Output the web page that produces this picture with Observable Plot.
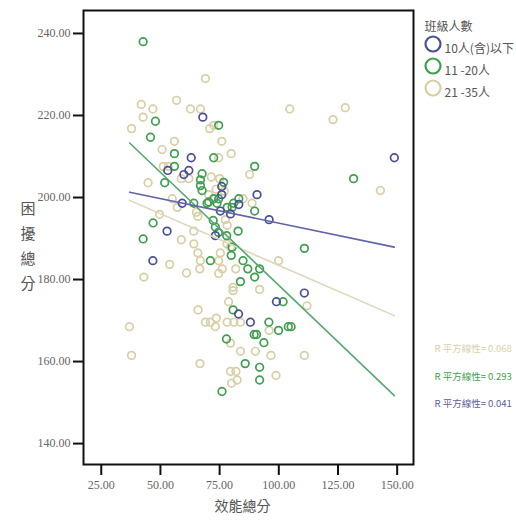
<!DOCTYPE html>
<html><head><meta charset="utf-8">
<script src="https://cdn.jsdelivr.net/npm/d3@7"></script>
<script src="https://cdn.jsdelivr.net/npm/@observablehq/plot@0.6"></script>
<style>
html,body{margin:0;padding:0;background:#fff;overflow:hidden;}
#chart [aria-label="x-axis tick"], #chart [aria-label="y-axis tick"]{stroke:#111;stroke-width:2px;}
</style></head><body><div id="chart"></div>
<script>
const xTicks = [25, 50, 75, 100, 125, 150];
const yTicks = [140, 160, 180, 200, 220, 240];
const xTitle = "效能總分";
const yTitle = "困擾總分";
const legendTitle = "班級人數";
const groups = ["10人(含)以下", "11 -20人", "21 -35人"];
const groupColors = ["#4a4f98", "#3f9f4f", "#d8cfa6"];
const lineColors = ["#6064a8", "#55a872", "#ddd7bd"];
const r2Labels = ["R 平方線性= 0.068", "R 平方線性= 0.293", "R 平方線性= 0.041"];
const r2Colors = ["#d9d1a8", "#3f9f4f", "#5a5e9e"];

// group 1: 10人(含)以下
const blueX = [67.9, 63.0, 53.1, 62.0, 59.9, 75.9, 75.9, 90.8, 148.8, 59.2, 83.1, 75.3, 79.6, 95.9, 52.8, 73.2, 46.8, 110.8, 99.0, 83.0, 88.0];
const blueY = [219.6, 209.7, 206.6, 206.6, 205.6, 202.7, 200.7, 200.7, 209.7, 198.6, 198.3, 196.7, 196.0, 194.6, 191.8, 190.7, 184.6, 176.7, 174.6, 171.6, 169.6];
// group 2: 11-20人
const greenX = [42.7, 47.9, 74.6, 131.6, 45.8, 55.9, 72.5, 55.9, 67.6, 66.9, 66.9, 67.6, 76.7, 89.8, 51.8, 72.5, 74.6, 64.1, 69.7, 73.9, 80.9, 78.2, 80.3, 89.8, 46.9, 72.3, 73.2, 82.8, 78.0, 42.7, 80.3, 110.8, 71.1, 79.9, 84.9, 86.9, 91.9, 89.8, 83.8, 101.8, 80.7, 95.8, 104.0, 105.2, 99.9, 89.6, 90.6, 77.9, 93.7, 85.8, 91.9, 91.9, 76.0, 83.1, 70.4, 74.5];
const greenY = [238.0, 218.6, 217.6, 204.6, 214.7, 210.7, 209.7, 207.6, 205.8, 204.3, 202.9, 201.7, 203.7, 207.6, 203.6, 199.7, 199.7, 198.6, 198.6, 198.6, 198.6, 197.6, 197.6, 196.7, 193.8, 194.4, 192.8, 191.8, 190.7, 189.9, 187.9, 187.6, 184.6, 185.9, 184.6, 182.6, 182.6, 180.6, 179.5, 174.6, 172.6, 169.6, 168.5, 168.5, 167.6, 166.6, 166.6, 165.5, 164.6, 159.5, 158.6, 155.5, 152.7, 199.7, 198.9, 191.5];
// group 3: 21-35人
const tanX = [69.0, 41.9, 56.8, 46.8, 62.7, 66.9, 42.7, 37.8, 70.8, 72.5, 104.6, 128.1, 122.9, 142.9, 55.9, 75.9, 50.7, 74.6, 79.9, 51.2, 53.3, 58.8, 62.0, 75.0, 87.7, 44.8, 70.4, 55.0, 57.1, 84.9, 88.7, 49.6, 65.2, 65.8, 77.4, 64.1, 58.8, 64.1, 78.1, 53.9, 65.8, 66.9, 75.3, 74.6, 81.8, 76.1, 66.6, 61.0, 74.6, 43.0, 99.9, 80.7, 80.7, 91.9, 111.9, 78.8, 65.9, 36.9, 69.0, 71.1, 73.6, 73.2, 78.2, 81.0, 83.8, 95.9, 79.6, 83.8, 90.1, 96.7, 110.8, 37.8, 66.7, 79.6, 81.9, 98.8, 82.4, 80.0, 73.5, 77.0, 71.5, 78.2, 79.6];
const tanY = [229.0, 222.7, 223.7, 221.6, 221.6, 221.6, 219.6, 216.8, 216.8, 217.6, 221.6, 221.9, 219.0, 201.7, 213.7, 213.7, 211.7, 209.7, 210.7, 207.6, 207.6, 204.6, 204.6, 204.6, 205.6, 203.6, 200.7, 199.7, 197.6, 199.7, 198.6, 195.9, 196.4, 195.4, 194.6, 191.8, 189.7, 188.7, 188.7, 183.7, 186.5, 184.6, 186.5, 184.6, 182.6, 182.6, 182.6, 181.6, 181.5, 180.6, 184.6, 178.1, 177.3, 177.6, 173.6, 174.6, 172.6, 168.5, 169.6, 169.6, 170.6, 168.5, 169.6, 169.6, 169.6, 167.6, 164.5, 162.5, 162.5, 161.5, 161.5, 161.5, 159.5, 157.6, 157.6, 156.6, 155.5, 154.7, 202.0, 201.5, 205.0, 193.2, 187.9];

// linear fit lines (end points)
const fitX = [37.0, 148.8];
const fitBlueY = [201.3, 187.9];
const fitGreenY = [213.3, 151.7];
const fitTanY = [199.3, 171.2];

const pts = [];
tanX.forEach((x, i) => pts.push({x, y: tanY[i], g: groups[2]}));
greenX.forEach((x, i) => pts.push({x, y: greenY[i], g: groups[1]}));
blueX.forEach((x, i) => pts.push({x, y: blueY[i], g: groups[0]}));

const fits = [];
[[fitTanY, groups[2]], [fitGreenY, groups[1]], [fitBlueY, groups[0]]].forEach(([ys, g]) =>
  fitX.forEach((x, i) => fits.push({x, y: ys[i], g})));

const cjk = "'Noto Sans CJK TC', sans-serif";
const fmt = d3.format(".2f");

const legendRows = groups.map((g, i) => ({g, i}));
const r2Rows = [
  {t: r2Labels[0], c: r2Colors[0], dy: 335},
  {t: r2Labels[1], c: r2Colors[1], dy: 363},
  {t: r2Labels[2], c: r2Colors[2], dy: 390}
];

const chart = Plot.plot({
  width: 516,
  height: 523,
  marginLeft: 83,
  marginRight: 103,
  marginTop: 10,
  marginBottom: 59,
  style: {fontFamily: "'Liberation Serif', serif", fontSize: "12px", background: "#fff"},
  x: {domain: [17.5, 156.9]},
  y: {domain: [134.9, 245.6]},
  color: {domain: groups, range: groupColors},
  marks: [
    Plot.dot(pts, {x: "x", y: "y", stroke: d => groupColors[groups.indexOf(d.g)], r: 3.8, strokeWidth: 1.7, fill: "none"}),
    Plot.line(fits, {x: "x", y: "y", z: "g", stroke: d => lineColors[groups.indexOf(d.g)], strokeWidth: 1.6}),
    Plot.frame({stroke: "#111", strokeWidth: 2}),
    Plot.axisX({ticks: xTicks, tickFormat: fmt, tickSize: 11, tickPadding: 5, label: null, color: "#666"}),
    Plot.axisY({ticks: yTicks, tickFormat: fmt, tickSize: 10, tickPadding: 3, label: null, color: "#666"}),
    Plot.text([xTitle], {frameAnchor: "bottom", dx: -6, dy: 46, fontFamily: cjk, fontSize: 14, fill: "#555"}),
    Plot.text([yTitle.split("").join("\n")], {frameAnchor: "left", dx: -63, dy: 6, fontFamily: cjk, fontSize: 15, lineHeight: 1.67, fill: "#555"}),
    Plot.text([legendTitle], {frameAnchor: "top-right", dx: 59, dy: 12, fontFamily: cjk, fontSize: 12, fill: "#555"}),
    ...legendRows.map(({g, i}) => Plot.dot([g], {frameAnchor: "top-right", dx: 19.5, dy: 33.5 + i * 22, r: 7.5, stroke: groupColors[i], strokeWidth: 2.2, fill: "none"})),
    ...legendRows.map(({g, i}) => Plot.text([g], {frameAnchor: "top-right", dx: 31, dy: 33.5 + i * 22, textAnchor: "start", fontFamily: cjk, fontSize: 12, fill: "#555"})),
    ...r2Rows.map(r => Plot.text([r.t], {frameAnchor: "top-right", dx: 21, dy: r.dy, textAnchor: "start", fontFamily: cjk, fontSize: 9.5, fill: r.c}))
  ]
});
document.getElementById("chart").appendChild(chart);
</script>
</body></html>
